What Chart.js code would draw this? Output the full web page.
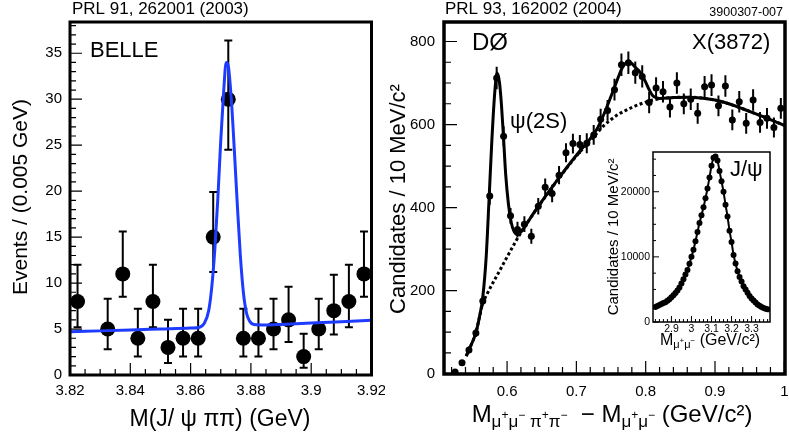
<!DOCTYPE html>
<html><head><meta charset="utf-8">
<script src="https://cdn.jsdelivr.net/npm/chart.js@4.4.0/dist/chart.umd.min.js"></script>
<style>
html,body{margin:0;padding:0;background:#fff;width:789px;height:440px;overflow:hidden}
canvas{position:absolute}
</style></head><body>
<canvas id="belle" width="385" height="440" style="left:0px;top:0px"></canvas>
<canvas id="d0" width="404" height="440" style="left:385px;top:0px"></canvas>
<canvas id="jpsi" width="195" height="215" style="left:590px;top:140px"></canvas>
<script>
const FONT = '"Liberation Sans", Helvetica, Arial, "DejaVu Sans", sans-serif';

// ---------- Belle panel ----------
const belleMass   = [3.8225,3.8325,3.8375,3.8425,3.8475,3.8525,3.8575,3.8625,3.8675,3.8725,3.8775,3.8825,3.8875,3.8925,3.8975,3.9025,3.9075,3.9125,3.9175];
const belleEvents = [8,5,11,4,8,3,4,4,15,30,4,4,5,6,2,5,7,8,11];
const belleErrLow = [5.2,2.8,8.5,2.0,5.2,1.3,2.0,2.0,11.2,24.5,2.0,2.0,2.8,3.6,0.8,2.8,4.4,5.2,8.5];
const belleErrHigh= [12.0,8.3,15.6,7.2,12.0,6.0,7.2,7.2,19.9,36.4,7.2,7.2,8.3,9.6,4.5,8.3,10.9,12.0,15.6];
const belleFitMass   = [3.82,3.83,3.84,3.85,3.86,3.863,3.8645,3.866,3.867,3.868,3.869,3.870,3.871,3.8718,3.8725,3.8735,3.8745,3.8755,3.8765,3.8775,3.8785,3.8795,3.881,3.885,3.89,3.90,3.91,3.92];
const belleFitEvents = [4.7,4.8,4.9,5.0,5.1,5.2,5.6,7.0,9.5,13.5,19,25.5,31,34,33.6,30,24.5,18.5,13,9,6.8,5.9,5.5,5.45,5.5,5.65,5.8,5.95];
const belleXTicks  = [3.82,3.84,3.86,3.88,3.9,3.92];
const belleXLabels = ['3.82','3.84','3.86','3.88','3.9','3.92'];
const belleYTicks  = [0,5,10,15,20,25,30,35];
const belleYLabels = ['0','5','10','15','20','25','30','35'];

// ---------- D0 panel ----------
const d0Mass = [0.525,0.535,0.545,0.555,0.565,0.575,0.585,0.595,0.605,0.615,0.625,0.635,0.645,0.655,0.665,0.675,0.685,0.695,0.705,0.715,0.725,0.735,0.745,0.755,0.765,0.775,0.785,0.795,0.805,0.815,0.825,0.835,0.845,0.855,0.865,0.875,0.885,0.895,0.905,0.915,0.925,0.935,0.945,0.955,0.965,0.975,0.985,0.995];
const d0Cand = [4,26,57,98,175,428,712,572,380,347,360,331,403,449,434,478,532,554,552,555,575,613,634,684,744,749,725,716,653,688,679,642,700,650,661,627,691,695,645,693,611,655,603,659,605,615,593,639];
const d0Err  = [2,5,8,10,13,21,27,24,19,19,19,18,20,21,21,22,23,24,23,24,24,25,25,26,27,27,27,27,26,26,26,25,26,25,26,25,26,26,25,26,25,26,25,26,25,25,24,25];
const d0FitMass = [0.541,0.545,0.550,0.555,0.560,0.565,0.570,0.574,0.578,0.582,0.5855,0.589,0.592,0.595,0.598,0.602,0.606,0.610,0.6155,0.620,0.640,0.660,0.680,0.700,0.720,0.730,0.740,0.750,0.760,0.765,0.770,0.775,0.780,0.785,0.790,0.795,0.800,0.805,0.810,0.815,0.820,0.840,0.860,0.880,0.900,0.920,0.940,0.960,0.980,1.000];
const d0FitCand = [42,57,76,98,135,185,285,420,560,672,724,702,645,565,480,408,364,343,335,341,391,438,483,526,566,590,626,668,712,733,746,751,747,738,730,718,702,684,670,665,663,665,666,664,659,650,638,625,612,598];
const d0BkgMass = [0.541,0.545,0.550,0.555,0.560,0.565,0.570,0.580,0.590,0.600,0.610,0.620,0.640,0.660,0.680,0.700,0.720,0.730,0.740,0.750,0.760,0.770,0.780,0.790,0.800,0.810,0.820,0.840,0.860,0.880,0.900,0.920,0.940,0.960,0.980,1.000];
const d0BkgCand = [42,57,76,98,135,170,188,220,250,281,311,340,390,437,482,524,562,580,598,612,624,633,641,648,654,659,662,665,666,664,659,650,638,625,612,598];
const d0XTicks  = [0.6,0.7,0.8,0.9,1];
const d0XLabels = ['0.6','0.7','0.8','0.9','1'];
const d0YTicks  = [0,200,400,600,800];
const d0YLabels = ['0','200','400','600','800'];

// ---------- J/psi inset ----------
const jpsiMass = [2.82,2.83,2.84,2.85,2.86,2.87,2.88,2.89,2.90,2.91,2.92,2.93,2.94,2.95,2.96,2.97,2.98,2.99,3.00,3.01,3.02,3.03,3.04,3.05,3.06,3.07,3.08,3.09,3.10,3.11,3.12,3.13,3.14,3.15,3.16,3.17,3.18,3.19,3.20,3.21,3.22,3.23,3.24,3.25,3.26,3.27,3.28,3.29,3.30,3.31,3.32,3.33,3.34,3.35,3.36,3.37,3.38];
const jpsiCand = [2300,2450,2600,2750,2900,3050,3250,3500,3800,4100,4450,4850,5300,5900,6550,7300,8000,8950,10000,11100,12400,13800,15200,16400,17600,19000,20500,22200,24000,25200,25400,24800,23200,21600,20000,18000,16200,14000,12300,10300,9000,7800,6900,6200,5500,5000,4500,4000,3600,3300,3000,2700,2500,2300,2150,2050,1950];
const jpsiXTicks  = [2.9,3,3.1,3.2,3.3];
const jpsiXLabels = ['2.9','3','3.1','3.2','3.3'];
const jpsiYTicks  = [0,10000,20000];
const jpsiYLabels = ['0','10000','20000'];

// ---------- helpers ----------
const pts = (xs, ys) => xs.map((x, i) => ({x, y: ys[i]}));

function mkScale(o) {
  return {
    type: 'linear', min: o.min, max: o.max,
    afterBuildTicks: s => { s.ticks = o.ticks.map(v => ({value: v})); },
    afterFit: s => {
      if (o.w != null) s.width = o.w;
      if (o.h != null) s.height = o.h;
      s.paddingLeft = s.paddingRight = s.paddingTop = s.paddingBottom = 0;
    },
    grid: {display: false, drawTicks: false, tickLength: 0}, border: {display: false},
    ticks: {autoSkip: false, maxRotation: 0, minRotation: 0, padding: o.pad, color: '#000',
            font: {family: FONT, size: o.fs}, callback: (v, i) => o.labels[i]}
  };
}

function framePlugin(c) {
  return {
    id: 'frame',
    beforeDraw(chart) {
      if (!c.fill) return;
      const a = chart.chartArea, ctx = chart.ctx;
      ctx.save(); ctx.fillStyle = '#fff';
      ctx.fillRect(a.left, a.top, a.right - a.left, a.bottom - a.top); ctx.restore();
    },
    afterDatasetsDraw(chart) {
      const {ctx, chartArea: a, scales: {x, y}} = chart;
      ctx.save();
      ctx.strokeStyle = '#000'; ctx.lineWidth = c.tickW; ctx.beginPath();
      for (let k = Math.ceil(x.min / c.xMin - 1e-6); k * c.xMin <= x.max + 1e-9; k++) {
        const px = x.getPixelForValue(k * c.xMin);
        const L = (k % c.xRatio === 0) ? c.majL : c.minL;
        ctx.moveTo(px, a.bottom); ctx.lineTo(px, a.bottom - L);
      }
      for (let k = Math.ceil(y.min / c.yMin - 1e-6); k * c.yMin <= y.max + 1e-9; k++) {
        const py = y.getPixelForValue(k * c.yMin);
        const L = (k % c.yRatio === 0) ? c.majL : c.minL;
        ctx.moveTo(a.left, py); ctx.lineTo(a.left + L, py);
      }
      ctx.stroke();
      ctx.lineWidth = c.frameW;
      ctx.strokeRect(a.left, a.top, a.right - a.left, a.bottom - a.top);
      ctx.restore();
    }
  };
}

function errPlugin(xs, lo, hi, cap, w) {
  return {
    id: 'errbars',
    beforeDatasetsDraw(chart) {
      const {ctx, chartArea: a, scales: {x, y}} = chart;
      ctx.save();
      ctx.beginPath(); ctx.rect(a.left, a.top, a.right - a.left, a.bottom - a.top); ctx.clip();
      ctx.strokeStyle = '#000'; ctx.lineWidth = w; ctx.beginPath();
      xs.forEach((xv, i) => {
        const px = x.getPixelForValue(xv), p1 = y.getPixelForValue(lo[i]), p2 = y.getPixelForValue(hi[i]);
        ctx.moveTo(px, p1); ctx.lineTo(px, p2);
        if (cap) { ctx.moveTo(px - cap, p1); ctx.lineTo(px + cap, p1); ctx.moveTo(px - cap, p2); ctx.lineTo(px + cap, p2); }
      });
      ctx.stroke(); ctx.restore();
    }
  };
}

function drawRich(ctx, pieces, cx, base) {
  let total = 0;
  pieces.forEach(p => { ctx.font = p.s + 'px ' + FONT; p.w = ctx.measureText(p.t).width; total += p.w; });
  let x = cx - total / 2;
  ctx.textAlign = 'left'; ctx.textBaseline = 'alphabetic';
  pieces.forEach(p => { ctx.font = p.s + 'px ' + FONT; ctx.fillText(p.t, x, base + (p.dy || 0)); x += p.w; });
}

function textPlugin(ox, oy, fn) {
  return { id: 'texts', afterDraw(chart) { const ctx = chart.ctx; ctx.save(); ctx.translate(-ox, -oy); ctx.fillStyle = '#000'; fn(ctx); ctx.restore(); } };
}

function rotText(ctx, t, cx, cy, size) {
  ctx.save(); ctx.translate(cx, cy); ctx.rotate(-Math.PI / 2);
  ctx.font = size + 'px ' + FONT; ctx.textAlign = 'center'; ctx.textBaseline = 'middle';
  ctx.fillText(t, 0, 0); ctx.restore();
}
function txt(ctx, t, x, y, size, align) {
  ctx.font = size + 'px ' + FONT; ctx.textAlign = align || 'left'; ctx.textBaseline = 'alphabetic';
  ctx.fillText(t, x, y);
}

const common = {responsive: false, animation: false, devicePixelRatio: 1,
  plugins: {legend: {display: false}, tooltip: {enabled: false}}};

// ---------- Belle chart ----------
new Chart(document.getElementById('belle'), {
  type: 'scatter',
  data: {datasets: [
    {data: pts(belleFitMass, belleFitEvents), showLine: true, borderColor: '#1e3cff', borderWidth: 3,
     pointRadius: 0, cubicInterpolationMode: 'monotone', order: 0},
    {data: pts(belleMass, belleEvents), pointRadius: 7.5, pointBackgroundColor: '#000', pointBorderColor: '#000',
     pointBorderWidth: 0, order: 1}
  ]},
  options: Object.assign({}, common, {
    layout: {padding: {left: 0, right: 13.5, top: 22, bottom: 0}},
    scales: {
      x: mkScale({min: 3.82, max: 3.92, ticks: belleXTicks, labels: belleXLabels, h: 65, pad: 7, fs: 15}),
      y: mkScale({min: 0, max: 38.4, ticks: belleYTicks, labels: belleYLabels, w: 70, pad: 8, fs: 15})
    }
  }),
  plugins: [
    errPlugin(belleMass, belleErrLow, belleErrHigh, 4, 2),
    framePlugin({tickW: 1.2, frameW: 3, majL: 12, minL: 6, xMin: 0.005, xRatio: 4, yMin: 1, yRatio: 5}),
    textPlugin(0, 0, ctx => {
      txt(ctx, 'PRL 91, 262001 (2003)', 72, 14, 17);
      txt(ctx, 'BELLE', 90, 57, 22);
      rotText(ctx, 'Events / (0.005 GeV)', 21, 197, 21);
      drawRich(ctx, [{t: 'M(J/ ψ ππ) (GeV)', s: 23}], 220, 426);
    })
  ]
});

// ---------- D0 chart ----------
new Chart(document.getElementById('d0'), {
  type: 'scatter',
  data: {datasets: [
    {data: pts(d0Mass, d0Cand), pointRadius: 3.5, pointBackgroundColor: '#000', pointBorderWidth: 0, order: 0},
    {data: pts(d0FitMass, d0FitCand), showLine: true, borderColor: '#000', borderWidth: 3, pointRadius: 0,
     cubicInterpolationMode: 'monotone', order: 1},
    {data: pts(d0BkgMass, d0BkgCand), showLine: true, borderColor: '#000', borderWidth: 3, pointRadius: 0,
     borderDash: [3, 2.5], cubicInterpolationMode: 'monotone', order: 2}
  ]},
  options: Object.assign({}, common, {
    layout: {padding: {left: 0, right: 4, top: 22, bottom: 0}},
    scales: {
      x: mkScale({min: 0.509, max: 1.001, ticks: d0XTicks, labels: d0XLabels, h: 66, pad: 9, fs: 15}),
      y: mkScale({min: -1, max: 847, ticks: d0YTicks, labels: d0YLabels, w: 59, pad: 9, fs: 15})
    }
  }),
  plugins: [
    errPlugin(d0Mass, d0Cand.map((v, i) => v - d0Err[i]), d0Cand.map((v, i) => v + d0Err[i]), 0, 2),
    framePlugin({tickW: 1.2, frameW: 3.5, majL: 13, minL: 7, xMin: 0.02, xRatio: 5, yMin: 50, yRatio: 4}),
    textPlugin(385, 0, ctx => {
      txt(ctx, 'PRL 93, 162002 (2004)', 445, 14, 17);
      txt(ctx, '3900307-007', 783, 16, 12.5, 'right');
      txt(ctx, 'DØ', 472, 50, 24);
      txt(ctx, 'X(3872)', 692, 49, 22);
      txt(ctx, 'ψ(2S)', 510, 128, 22);
      rotText(ctx, 'Candidates / 10 MeV/c²', 399, 199, 22);
      const B = 24, S = 17, P = 12;
      drawRich(ctx, [
        {t: 'M', s: B}, {t: 'μ', s: S, dy: 5}, {t: '+', s: P, dy: -3}, {t: 'μ', s: S, dy: 5}, {t: '−', s: P, dy: -3},
        {t: ' ', s: S}, {t: 'π', s: S, dy: 5}, {t: '+', s: P, dy: -3}, {t: 'π', s: S, dy: 5}, {t: '−', s: P, dy: -3},
        {t: '  − M', s: B}, {t: 'μ', s: S, dy: 5}, {t: '+', s: P, dy: -3}, {t: 'μ', s: S, dy: 5}, {t: '−', s: P, dy: -3},
        {t: ' (GeV/c²)', s: B}
      ], 612, 422);
    })
  ]
});

// ---------- J/psi inset ----------
new Chart(document.getElementById('jpsi'), {
  type: 'scatter',
  data: {datasets: [
    {data: pts(jpsiMass, jpsiCand), showLine: true, borderColor: '#000', borderWidth: 2, pointRadius: 3,
     pointBackgroundColor: '#000', pointBorderWidth: 0, cubicInterpolationMode: 'monotone'}
  ]},
  options: Object.assign({}, common, {
    layout: {padding: {left: 0, right: 15, top: 12, bottom: 0}},
    scales: {
      x: mkScale({min: 2.808, max: 3.392, ticks: jpsiXTicks, labels: jpsiXLabels, h: 33, pad: 1, fs: 10.5}),
      y: mkScale({min: 0, max: 26100, ticks: jpsiYTicks, labels: jpsiYLabels, w: 63, pad: 3, fs: 10.5})
    }
  }),
  plugins: [
    framePlugin({fill: true, tickW: 1, frameW: 1.5, majL: 6, minL: 3, xMin: 0.02, xRatio: 5, yMin: 2500, yRatio: 4}),
    textPlugin(590, 140, ctx => {
      txt(ctx, 'J/ψ', 730, 176, 22);
      rotText(ctx, 'Candidates / 10 MeV/c²', 614, 237, 15);
      drawRich(ctx, [
        {t: 'M', s: 16}, {t: 'μ', s: 11, dy: 3}, {t: '+', s: 8, dy: -2}, {t: 'μ', s: 11, dy: 3}, {t: '−', s: 8, dy: -2},
        {t: ' (GeV/c²)', s: 16}
      ], 710, 345);
    })
  ]
});
</script>
</body></html>
